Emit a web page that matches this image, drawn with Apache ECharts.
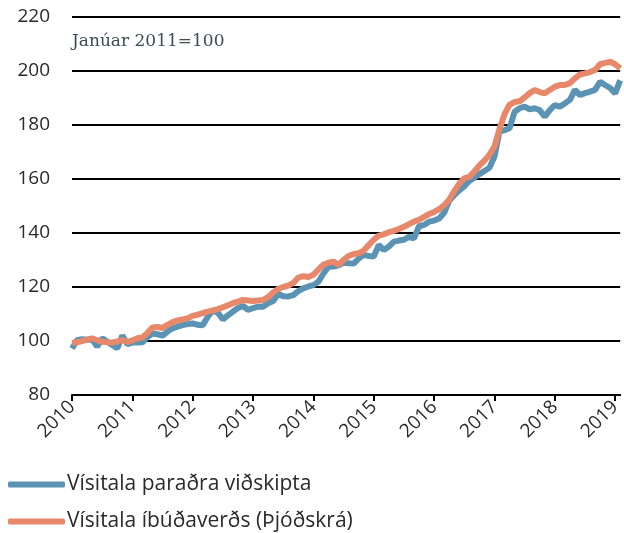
<!DOCTYPE html>
<html>
<head>
<meta charset="utf-8">
<script src="https://cdn.jsdelivr.net/npm/echarts@6/dist/echarts.min.js"></script>
<style>
  html, body { margin: 0; padding: 0; background: #fff; }
  #chart { width: 624px; height: 533px; }
</style>
</head>
<body>
<div id="chart"></div>
<script>
// monthly, Jan 2010 .. Feb 2019
const months = [];
for (let y = 2010; y <= 2019; y++) {
  for (let m = 1; m <= 12; m++) {
    if (y === 2019 && m > 2) break;
    months.push(y + '-' + (m < 10 ? '0' + m : m));
  }
}

const nameParad = 'Vísitala paraðra viðskipta';
const nameThjod = 'Vísitala íbúðaverðs (Þjóðskrá)';

const parad = [
  97.2, 100.3, 100.7, 100.5, 100.6, 97.9, 101.0, 99.7, 98.5, 97.3, 102.0, 98.8,
  99.4, 99.4, 99.5, 101.5, 102.8, 102.5, 102.0, 103.5, 104.7, 105.3, 105.9, 106.3,
  106.5, 106.0, 105.8, 109.0, 111.3, 110.5, 108.0, 109.5, 110.9, 112.2, 113.0, 111.5,
  112.2, 112.7, 112.7, 114.0, 114.8, 117.5, 116.6, 116.5, 117.0, 118.5, 119.5, 120.2,
  120.7, 122.0, 125.0, 127.5, 127.6, 128.0, 129.0, 128.8, 128.7, 130.5, 131.9, 131.5,
  131.3, 135.6, 133.7, 135.0, 136.8, 137.2, 137.5, 138.6, 138.0, 142.5, 143.0, 144.2,
  144.6, 145.4, 147.5, 152.0, 154.0, 155.8, 157.3, 159.3, 160.5, 161.8, 163.0, 164.2,
  168.3, 177.5, 178.1, 178.8, 184.9, 186.2, 186.8, 185.8, 186.2, 185.5, 183.1, 185.5,
  187.4, 186.8, 188.0, 189.3, 193.0, 191.1, 191.8, 192.4, 193.0, 196.0, 194.8, 193.7,
  191.7, 196.5
];

const thjod = [
  99.3, 99.5, 100.0, 100.5, 101.0, 100.3, 99.7, 99.5, 99.4, 99.8, 100.4, 99.6,
  100.2, 101.0, 101.3, 103.0, 105.0, 105.2, 104.8, 106.0, 107.0, 107.6, 108.0, 108.4,
  109.3, 109.8, 110.3, 110.9, 111.3, 111.8, 112.5, 113.2, 114.0, 114.6, 115.2, 115.0,
  114.8, 115.0, 115.2, 116.2, 118.0, 119.3, 120.0, 120.5, 121.5, 123.5, 124.0, 123.7,
  124.5, 126.5, 128.3, 129.0, 129.4, 128.2, 130.0, 131.5, 132.2, 132.5, 133.5, 135.5,
  137.5, 139.0, 139.5, 140.3, 140.8, 141.5, 142.3, 143.3, 144.2, 144.9, 146.0, 147.0,
  147.8, 148.8, 150.3, 152.3, 155.5, 158.3, 160.2, 160.8, 162.8, 165.0, 166.8, 169.0,
  172.0, 178.5, 184.0, 187.5, 188.5, 188.8, 190.2, 191.8, 193.0, 192.2, 191.7, 193.0,
  194.2, 194.8, 194.8, 195.5, 197.3, 198.7, 199.1, 199.6, 200.4, 202.5, 203.0, 203.4,
  202.5, 201.0
];

const yTicks = { min: 80, max: 220, step: 20 };
const note = 'Janúar 2011=100';

const isJan = function (i) { return i % 12 === 0; };
const axisFont = '"Open Sans"';

function legendRow(name, top) {
  return {
    left: 8, top: top, padding: 0,
    icon: 'roundRect',
    itemWidth: 57, itemHeight: 6,
    textStyle: { fontFamily: axisFont, fontSize: 21, color: '#2a2a2a', padding: [0, 0, 0, -3] },
    data: [name]
  };
}

const chart = echarts.init(document.getElementById('chart'));
chart.setOption({
  animation: false,
  grid: { left: 72, right: 0, top: 17, bottom: 138, containLabel: false },
  graphic: [{
    type: 'text', left: 72, top: 33,
    style: { text: note, font: '17px "DejaVu Serif"', fill: '#3b4d57' }
  }],
  legend: [legendRow(nameParad, 474), legendRow(nameThjod, 511)],
  xAxis: {
    type: 'category', data: months, boundaryGap: false,
    axisLine: { lineStyle: { color: '#000', width: 2 } },
    axisTick: { interval: isJan, length: 6, lineStyle: { color: '#000', width: 2 } },
    axisLabel: {
      interval: isJan, rotate: 45, margin: 9,
      fontFamily: axisFont, fontSize: 19, color: '#2a2a2a',
      formatter: function (v) { return v.slice(0, 4); }
    }
  },
  yAxis: {
    type: 'value', min: yTicks.min, max: yTicks.max, interval: yTicks.step,
    axisLine: { show: false }, axisTick: { show: false },
    axisLabel: { margin: 22, fontFamily: axisFont, fontSize: 19, color: '#2a2a2a' },
    splitLine: { lineStyle: { color: '#000', width: 2 } }
  },
  series: [
    {
      name: nameParad, type: 'line', data: parad, symbol: 'none',
      lineStyle: { color: '#5a93b3', width: 6 }, itemStyle: { color: '#5a93b3' }
    },
    {
      name: nameThjod, type: 'line', data: thjod, symbol: 'none',
      lineStyle: { color: '#e8886a', width: 6 }, itemStyle: { color: '#e8886a' }
    }
  ]
});
</script>
</body>
</html>
